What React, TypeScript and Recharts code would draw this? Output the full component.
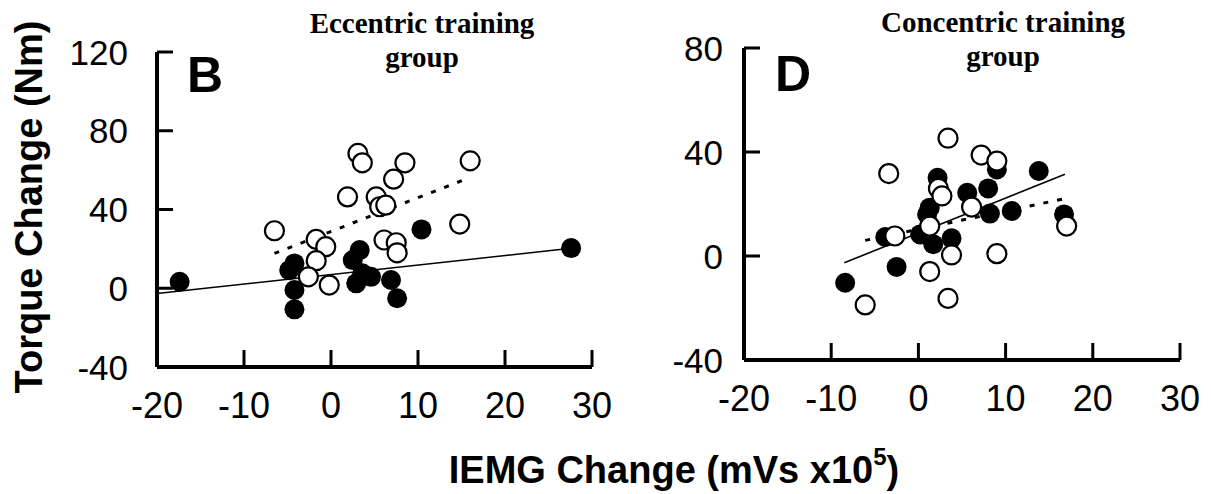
import React from 'react'
import { ScatterChart, Scatter, XAxis, YAxis } from 'recharts'

type Pt = { x: number; y: number }

// Panel B - eccentric training group
const eccentricOpen: Pt[] = [
  { x: 3.1, y: 68.5 }, { x: 3.6, y: 63.7 }, { x: 8.5, y: 63.7 }, { x: 16.0, y: 64.7 },
  { x: 7.2, y: 55.4 }, { x: 1.9, y: 46.4 }, { x: 5.2, y: 46.4 }, { x: 5.6, y: 41.4 },
  { x: 6.3, y: 42.2 }, { x: -6.5, y: 29.2 }, { x: 14.8, y: 32.6 }, { x: -1.7, y: 24.8 },
  { x: -0.6, y: 21.1 }, { x: -1.7, y: 14.0 }, { x: 6.1, y: 24.5 }, { x: 7.5, y: 23.1 },
  { x: 7.6, y: 18.0 }, { x: -2.6, y: 5.8 }, { x: -0.2, y: 1.6 },
]
const eccentricFilled: Pt[] = [
  { x: -17.4, y: 3.3 }, { x: 10.4, y: 29.9 }, { x: 3.3, y: 19.4 }, { x: 2.5, y: 14.3 },
  { x: -4.2, y: 12.6 }, { x: -4.8, y: 9.2 }, { x: 3.6, y: 7.6 }, { x: 2.9, y: 2.5 },
  { x: 4.6, y: 5.8 }, { x: 6.9, y: 4.2 }, { x: -4.2, y: -0.9 }, { x: 7.6, y: -5.1 },
  { x: -4.2, y: -10.7 }, { x: 27.6, y: 20.4 },
]
const eccentricFitFilled: Pt[] = [{ x: -20, y: -2.7 }, { x: 27.6, y: 20.3 }]
const eccentricFitOpen: Pt[] = [{ x: -6.5, y: 17.7 }, { x: 15.2, y: 54.9 }]

// Panel D - concentric training group
const concentricOpen: Pt[] = [
  { x: 3.4, y: 45.3 }, { x: 7.2, y: 38.8 }, { x: 9.0, y: 36.5 }, { x: -3.4, y: 31.7 },
  { x: 2.3, y: 26.0 }, { x: 2.7, y: 23.1 }, { x: 6.1, y: 18.8 }, { x: 1.3, y: 11.5 },
  { x: -2.7, y: 7.7 }, { x: 17.0, y: 11.5 }, { x: 9.0, y: 0.9 }, { x: 3.8, y: 0.4 },
  { x: 1.3, y: -6.0 }, { x: -6.1, y: -18.8 }, { x: 3.4, y: -16.3 },
]
const concentricFilled: Pt[] = [
  { x: 13.8, y: 32.7 }, { x: 2.2, y: 30.1 }, { x: 9.0, y: 33.3 }, { x: 8.0, y: 26.0 },
  { x: 5.6, y: 24.3 }, { x: 1.3, y: 18.6 }, { x: 1.0, y: 16.0 }, { x: 8.2, y: 16.3 },
  { x: 10.7, y: 17.3 }, { x: 16.7, y: 16.0 }, { x: -3.8, y: 7.3 }, { x: 0.2, y: 8.3 },
  { x: 1.7, y: 4.5 }, { x: 3.8, y: 6.8 }, { x: -2.5, y: -4.2 }, { x: -8.4, y: -10.3 },
]
const concentricFitFilled: Pt[] = [{ x: -8.5, y: -2.6 }, { x: 16.8, y: 31.4 }]
const concentricFitOpen: Pt[] = [{ x: -6.1, y: 6.0 }, { x: 17.0, y: 22.2 }]

const xTicks = [-20, -10, 0, 10, 20, 30]
const eccentricYTicks = [-40, 0, 40, 80, 120]
const concentricYTicks = [-40, 0, 40, 80]

const SANS = "'Liberation Sans', Arial, Helvetica, sans-serif"
const SERIF = "'Liberation Serif', 'Times New Roman', serif"

// ticks point inwards, so the tick mark is drawn here together with its label
const YTick = (p: any) => {
  const { x, y, payload, gap } = p
  return (
    <g>
      <line x1={x} x2={x + 16} y1={y} y2={y} stroke="#000" strokeWidth={3} />
      <text x={x - gap} y={y + 12.5} textAnchor="end" fontSize={35} fontFamily={SANS} fill="#000">
        {payload.value}
      </text>
    </g>
  )
}

const XTick = (p: any) => {
  const { x, y, payload } = p
  return (
    <g>
      <line x1={x} x2={x} y1={y} y2={y - 17} stroke="#000" strokeWidth={3} />
      <text x={x} y={y + 51} textAnchor="middle" fontSize={36} fontFamily={SANS} fill="#000">
        {payload.value}
      </text>
    </g>
  )
}

const OpenDot = (p: any) => <circle cx={p.cx} cy={p.cy} r={9.5} fill="#fff" stroke="#000" strokeWidth={2.2} />
const FilledDot = (p: any) => <circle cx={p.cx} cy={p.cy} r={10} fill="#000" />
const NoDot = () => <g />

function Panel(props: any) {
  return (
    <ScatterChart
      width={props.width}
      height={props.height}
      margin={{ top: props.top, right: props.right, left: 0, bottom: 0 }}
    >
      <XAxis
        type="number"
        dataKey="x"
        domain={[-20, 30]}
        ticks={xTicks}
        height={props.xAxisHeight}
        axisLine={{ stroke: '#000', strokeWidth: 4 }}
        tickLine={false}
        tickSize={0}
        tickMargin={0}
        tick={(p: any) => <XTick {...p} />}
      />
      <YAxis
        type="number"
        dataKey="y"
        domain={props.yDomain}
        ticks={props.yTicks}
        width={props.yAxisWidth}
        axisLine={{ stroke: '#000', strokeWidth: 4 }}
        tickLine={false}
        tickSize={0}
        tickMargin={0}
        tick={(p: any) => <YTick {...p} gap={props.labelGap} />}
      />
      <Scatter data={props.fitFilled} line={{ stroke: '#000', strokeWidth: 1.6 }} shape={NoDot} isAnimationActive={false} />
      <Scatter
        data={props.fitOpen}
        line={{ stroke: '#000', strokeWidth: 3, strokeDasharray: '5 9' }}
        shape={NoDot}
        isAnimationActive={false}
      />
      <Scatter data={props.filled} shape={FilledDot} isAnimationActive={false} />
      <Scatter data={props.open} shape={OpenDot} isAnimationActive={false} />
    </ScatterChart>
  )
}

export default function App() {
  return (
    <div style={{ position: 'absolute', left: 0, top: 0, width: 1211, height: 494 }}>
      <div style={{ position: 'absolute', left: 0, top: 0 }}>
        <Panel
          open={eccentricOpen}
          filled={eccentricFilled}
          fitOpen={eccentricFitOpen}
          fitFilled={eccentricFitFilled}
          yDomain={[-40, 120]}
          yTicks={eccentricYTicks}
          width={620}
          height={430}
          yAxisWidth={157}
          xAxisHeight={63}
          top={52}
          right={28}
          labelGap={29}
        />
      </div>
      <div style={{ position: 'absolute', left: 620, top: 0 }}>
        <Panel
          open={concentricOpen}
          filled={concentricFilled}
          fitOpen={concentricFitOpen}
          fitFilled={concentricFitFilled}
          yDomain={[-40, 80]}
          yTicks={concentricYTicks}
          width={591}
          height={430}
          yAxisWidth={124}
          xAxisHeight={70}
          top={48}
          right={31}
          labelGap={21}
        />
      </div>
      <svg width={1211} height={494} style={{ position: 'absolute', left: 0, top: 0, pointerEvents: 'none' }}>
        <text x={422} y={33} textAnchor="middle" fontFamily={SERIF} fontWeight="bold" fontSize={29}>Eccentric training</text>
        <text x={422} y={67} textAnchor="middle" fontFamily={SERIF} fontWeight="bold" fontSize={29}>group</text>
        <text x={1003} y={32} textAnchor="middle" fontFamily={SERIF} fontWeight="bold" fontSize={29}>Concentric training</text>
        <text x={1003} y={66} textAnchor="middle" fontFamily={SERIF} fontWeight="bold" fontSize={29}>group</text>
        <text x={187} y={92} fontFamily={SANS} fontWeight="bold" fontSize={50}>B</text>
        <text x={775} y={91} fontFamily={SANS} fontWeight="bold" fontSize={50}>D</text>
        <text
          transform="translate(42, 207) rotate(-90)"
          textAnchor="middle"
          fontFamily={SANS}
          fontWeight="bold"
          fontSize={38}
        >
          Torque Change (Nm)
        </text>
        <text x={674} y={483} textAnchor="middle" fontFamily={SANS} fontWeight="bold" fontSize={38}>
          IEMG Change (mVs x10<tspan dy={-18} fontSize={24}>5</tspan><tspan dy={18}>)</tspan>
        </text>
      </svg>
    </div>
  )
}
